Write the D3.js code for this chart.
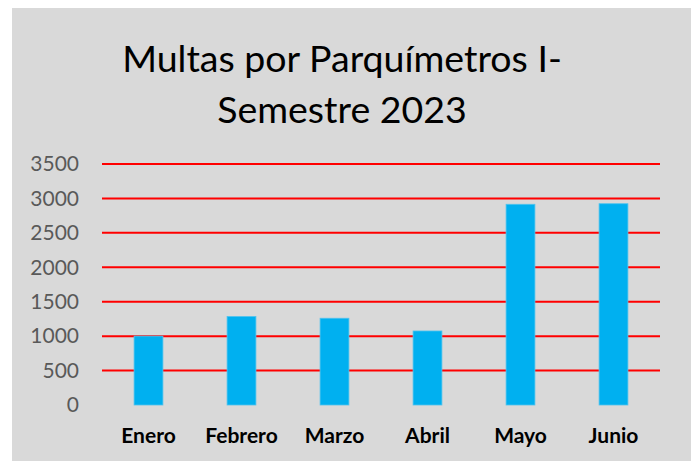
<!DOCTYPE html>
<html>
<head>
<meta charset="utf-8">
<script src="https://cdn.jsdelivr.net/npm/d3@7"></script>
<style>
  body { margin: 0; background: #fff; }
  text { font-family: Lato, "Open Sans", sans-serif; }
</style>
</head>
<body>
<div id="chart"></div>
<script>
// datos
var meses = ['Enero', 'Febrero', 'Marzo', 'Abril', 'Mayo', 'Junio'];
var multas = [1000, 1285, 1260, 1075, 2915, 2923];
var yTicks = [0, 500, 1000, 1500, 2000, 2500, 3000, 3500];
var titulo = ['Multas por Parquímetros I-', 'Semestre 2023'];

var opts = {
  width: 694,
  height: 461,
  left: 102,
  right: 660,
  top: 164,
  bottom: 405
};

var svg = d3.select('#chart').append('svg')
  .attr('width', opts.width)
  .attr('height', opts.height);

svg.append('rect')
  .attr('x', 12)
  .attr('y', 8)
  .attr('width', 679)
  .attr('height', 453)
  .attr('fill', '#d9d9d9');

var x = d3.scaleBand()
  .domain(meses)
  .range([opts.left, opts.right])
  .paddingInner(0.69)
  .paddingOuter(0.345);

var y = d3.scaleLinear()
  .domain([0, 3500])
  .range([opts.bottom, opts.top]);

// titulo
svg.selectAll('text.titulo')
  .data(titulo)
  .enter().append('text')
  .attr('class', 'titulo')
  .attr('x', 342)
  .attr('y', function(d, i) { return 72 + i * 50.5; })
  .attr('text-anchor', 'middle')
  .attr('font-size', 37.5)
  .attr('fill', '#000')
  .text(function(d) { return d; });

// lineas de cuadricula
svg.selectAll('line.grid')
  .data(yTicks.filter(function(t) { return t > 0; }))
  .enter().append('line')
  .attr('class', 'grid')
  .attr('x1', opts.left)
  .attr('x2', opts.right)
  .attr('y1', function(d) { return y(d); })
  .attr('y2', function(d) { return y(d); })
  .attr('stroke', '#ff0000')
  .attr('stroke-width', 2);

// eje y
var yAxis = d3.axisLeft(y)
  .tickValues(yTicks)
  .tickFormat(d3.format('d'))
  .tickSize(0)
  .tickPadding(0);

var gy = svg.append('g')
  .attr('transform', 'translate(79,0)')
  .call(yAxis);
gy.select('.domain').remove();
gy.selectAll('text')
  .attr('font-family', 'Lato, sans-serif')
  .attr('font-size', 21)
  .attr('fill', '#595959');

// barras
svg.selectAll('rect.bar')
  .data(multas)
  .enter().append('rect')
  .attr('class', 'bar')
  .attr('x', function(d, i) { return x(meses[i]); })
  .attr('y', function(d) { return y(d); })
  .attr('width', x.bandwidth())
  .attr('height', function(d) { return y(0) - y(d); })
  .attr('fill', '#00b0f0')
  .attr('stroke', '#4fc3ee')
  .attr('stroke-width', 0.8);

// eje x
var xAxis = d3.axisBottom(x)
  .tickSize(0)
  .tickPadding(0);

var gx = svg.append('g')
  .attr('transform', 'translate(0,428)')
  .call(xAxis);
gx.select('.domain').remove();
gx.selectAll('text')
  .attr('font-family', 'Lato, sans-serif')
  .attr('font-size', 21)
  .attr('font-weight', 'bold')
  .attr('fill', '#000');
</script>
</body>
</html>
